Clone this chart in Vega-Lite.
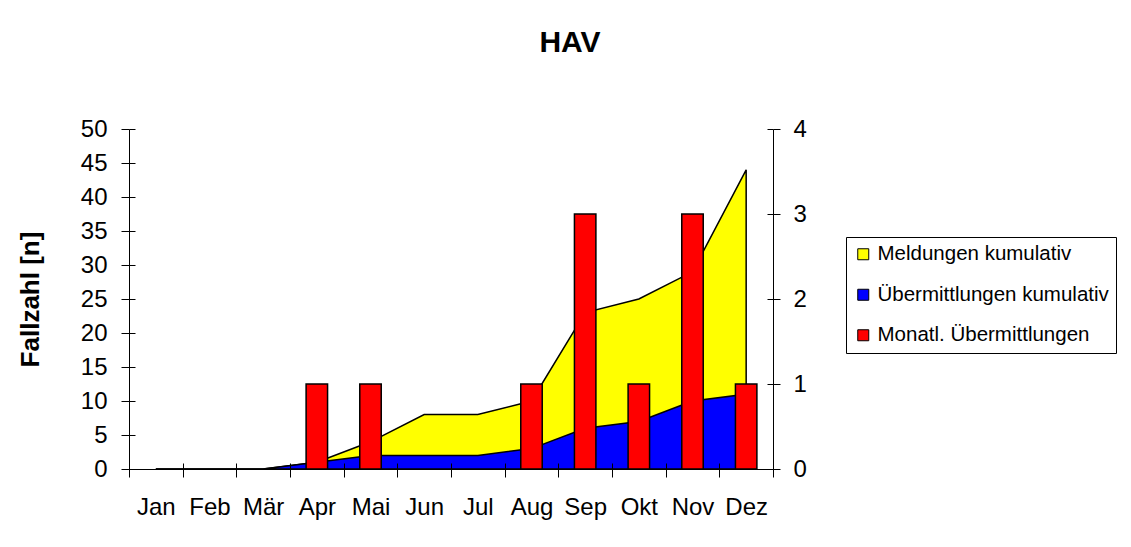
{
  "$schema": "https://vega.github.io/schema/vega-lite/v6.json",
  "width": 644,
  "height": 340,
  "autosize": "none",
  "padding": {"left": 129, "top": 129, "right": 358, "bottom": 78},
  "background": "white",
  "config": {
    "view": {"stroke": null},
    "font": "Liberation Sans",
    "axis": {"domainColor": "black", "tickColor": "black", "labelColor": "black", "titleColor": "black", "grid": false, "labelFont": "Liberation Sans", "titleFont": "Liberation Sans"}
  },
  "title": {"text": "HAV", "font": "Liberation Sans", "fontSize": 30, "fontWeight": "bold", "color": "black", "frame": "group", "anchor": "middle", "dx": 119, "offset": 59},
  "data": {
    "values": [
      {"Monat": "Jan", "Meldungen": 0, "Uebermittlungen": 0, "Monatl": 0},
      {"Monat": "Feb", "Meldungen": 0, "Uebermittlungen": 0, "Monatl": 0},
      {"Monat": "Mär", "Meldungen": 0, "Uebermittlungen": 0, "Monatl": 0},
      {"Monat": "Apr", "Meldungen": 1, "Uebermittlungen": 1, "Monatl": 1},
      {"Monat": "Mai", "Meldungen": 4, "Uebermittlungen": 2, "Monatl": 1},
      {"Monat": "Jun", "Meldungen": 8, "Uebermittlungen": 2, "Monatl": 0},
      {"Monat": "Jul", "Meldungen": 8, "Uebermittlungen": 2, "Monatl": 0},
      {"Monat": "Aug", "Meldungen": 10, "Uebermittlungen": 3, "Monatl": 1},
      {"Monat": "Sep", "Meldungen": 23, "Uebermittlungen": 6, "Monatl": 3},
      {"Monat": "Okt", "Meldungen": 25, "Uebermittlungen": 7, "Monatl": 1},
      {"Monat": "Nov", "Meldungen": 29, "Uebermittlungen": 10, "Monatl": 3},
      {"Monat": "Dez", "Meldungen": 44, "Uebermittlungen": 11, "Monatl": 1}
    ]
  },
  "encoding": {
    "x": {
      "field": "Monat",
      "type": "ordinal",
      "sort": ["Jan", "Feb", "Mär", "Apr", "Mai", "Jun", "Jul", "Aug", "Sep", "Okt", "Nov", "Dez"],
      "scale": {"type": "band", "paddingInner": 0, "paddingOuter": 0}
    }
  },
  "layer": [
    {
      "encoding": {
        "x": {"field": "Monat", "type": "ordinal", "sort": ["Jan", "Feb", "Mär", "Apr", "Mai", "Jun", "Jul", "Aug", "Sep", "Okt", "Nov", "Dez"], "bandPosition": 0.5, "axis": {"orient": "bottom", "title": null, "labelAngle": 0, "labelFontSize": 24, "tickSize": 8, "labelPadding": 18, "tickBand": "extent", "domainWidth": 1, "tickWidth": 1}}
      },
      "layer": [
        {
          "mark": {"type": "area", "stroke": "black", "strokeWidth": 1.5, "line": false, "opacity": 1},
          "encoding": {
            "y": {"field": "Meldungen", "type": "quantitative", "stack": null, "scale": {"domain": [0, 50], "nice": false}, "axis": {"orient": "left", "values": [0, 5, 10, 15, 20, 25, 30, 35, 40, 45, 50], "title": "Fallzahl [n]", "titleFontSize": 26, "titleFontWeight": "bold", "titlePadding": 37, "labelFontSize": 24, "tickSize": 8, "labelPadding": 14}},
            "color": {"datum": "Meldungen kumulativ", "type": "nominal"}
          }
        },
        {
          "mark": {"type": "area", "stroke": "black", "strokeWidth": 1.5, "line": false, "opacity": 1},
          "encoding": {
            "y": {"field": "Uebermittlungen", "type": "quantitative", "stack": null, "axis": {"orient": "left", "values": [0, 5, 10, 15, 20, 25, 30, 35, 40, 45, 50], "title": null, "labels": false, "domain": false, "tickSize": -6, "zindex": 1}},
            "color": {"datum": "Übermittlungen kumulativ", "type": "nominal"}
          }
        }
      ],
      "resolve": {"axis": {"y": "independent"}}
    },
    {
      "encoding": {
        "x": {"field": "Monat", "type": "ordinal", "sort": ["Jan", "Feb", "Mär", "Apr", "Mai", "Jun", "Jul", "Aug", "Sep", "Okt", "Nov", "Dez"], "axis": {"orient": "bottom", "title": null, "labels": false, "domain": false, "tickSize": -6, "tickBand": "extent", "zindex": 1}}
      },
      "transform": [{"filter": "datum.Monatl > 0"}],
      "layer": [
        {
          "mark": {"type": "bar", "stroke": "black", "strokeWidth": 1.5, "width": {"band": 0.4}, "opacity": 1},
          "encoding": {
            "y": {"field": "Monatl", "type": "quantitative", "scale": {"domain": [0, 4], "nice": false}, "axis": {"orient": "right", "values": [0, 1, 2, 3, 4], "title": null, "labelFontSize": 24, "tickSize": 7, "labelPadding": 13}},
            "color": {
              "datum": "Monatl. Übermittlungen",
              "type": "nominal",
              "scale": {"domain": ["Meldungen kumulativ", "Übermittlungen kumulativ", "Monatl. Übermittlungen"], "range": ["#FFFF00", "#0000FF", "#FF0000"]},
              "legend": {"title": null, "orient": "none", "legendX": 717, "legendY": 108, "strokeColor": "black", "padding": 7, "symbolType": "square", "symbolSize": 121, "symbolStrokeColor": "black", "symbolStrokeWidth": 1, "symbolOpacity": 1, "labelFontSize": 20.5, "labelFont": "Liberation Sans", "labelColor": "black", "labelOffset": 4, "labelLimit": 500, "rowPadding": 19.5, "fillColor": "white"}
            }
          }
        },
        {
          "mark": {"type": "bar", "opacity": 0, "width": {"band": 0.4}},
          "encoding": {
            "y": {"field": "Monatl", "type": "quantitative", "axis": {"orient": "right", "values": [0, 1, 2, 3, 4], "title": null, "labels": false, "domain": false, "tickSize": -6, "zindex": 1}}
          }
        }
      ],
      "resolve": {"axis": {"y": "independent"}}
    }
  ],
  "resolve": {"scale": {"y": "independent"}, "axis": {"x": "independent"}}
}
